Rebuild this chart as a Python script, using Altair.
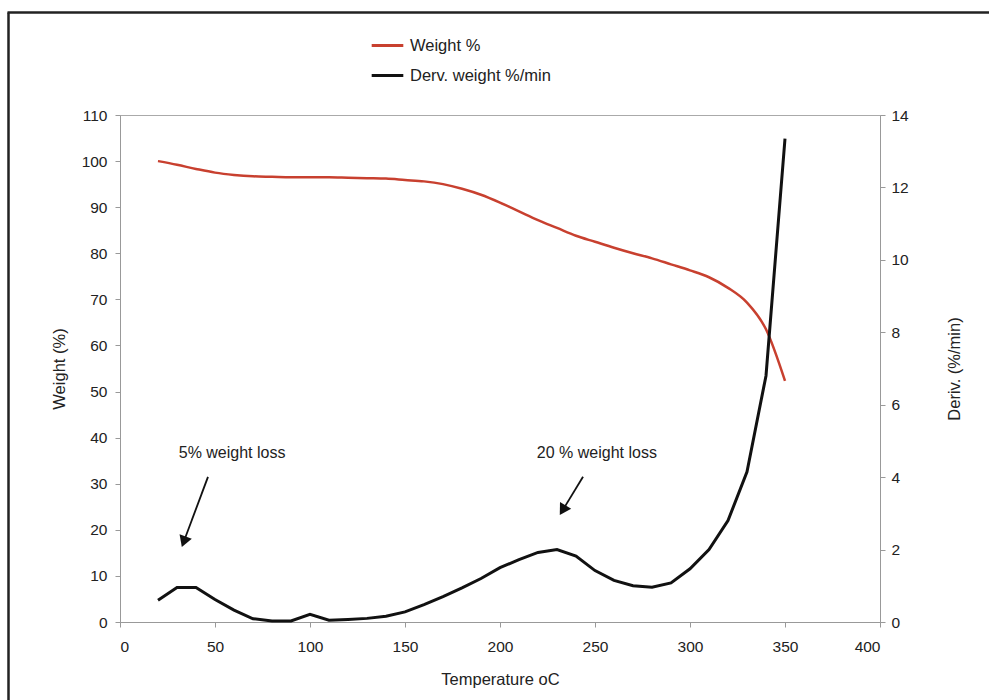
import altair as alt
import pandas as pd

# ---- data ----
temperature = [20, 30, 40, 50, 60, 70, 80, 90, 100, 110, 120, 130, 140, 150, 160, 170,
               180, 190, 200, 210, 220, 230, 240, 250, 260, 270, 280, 290, 300, 310,
               320, 330, 340, 350]
weight_pct = [100.0, 99.2, 98.3, 97.5, 97.0, 96.7, 96.6, 96.5, 96.5, 96.5, 96.4, 96.3,
              96.2, 95.9, 95.6, 95.0, 94.0, 92.7, 91.0, 89.1, 87.2, 85.5, 83.8, 82.5,
              81.2, 80.0, 78.9, 77.6, 76.3, 74.8, 72.5, 69.3, 63.5, 52.3]
deriv_weight = [0.6, 0.95, 0.95, 0.62, 0.33, 0.09, 0.03, 0.03, 0.21, 0.05, 0.07, 0.1,
                0.16, 0.28, 0.48, 0.7, 0.94, 1.2, 1.5, 1.72, 1.92, 2.0, 1.82, 1.42,
                1.15, 1.0, 0.96, 1.08, 1.47, 2.0, 2.8, 4.15, 6.8, 13.35]

series_names = ["Weight %", "Derv. weight %/min"]
series_colors = ["#c8402f", "#111111"]

# annotations (data units: temperature, weight %)
ann_text = ["5% weight loss", "20 % weight loss"]
ann_text_x = [59, 251]
ann_text_y = [36.7, 36.7]
arrow_x1 = [46.3, 243.7]
arrow_y1 = [31.5, 31.5]
arrow_x2 = [33.9, 233.5]
arrow_y2 = [17.8, 24.6]
arrow_angle = [200, 211]

x_ticks = list(range(0, 401, 50))
left_ticks = list(range(0, 111, 10))
right_ticks = list(range(0, 15, 2))

FONT = "Liberation Sans"

df_w = pd.DataFrame({"T": temperature, "v": weight_pct, "series": series_names[0]})
df_d = pd.DataFrame({"T": temperature, "v": deriv_weight, "series": series_names[1]})
df_ann = pd.DataFrame({"label": ann_text, "tx": ann_text_x, "ty": ann_text_y,
                       "x1": arrow_x1, "y1": arrow_y1, "x2": arrow_x2, "y2": arrow_y2,
                       "angle": arrow_angle})

xscale = alt.Scale(domain=[0, 400], nice=False)
xaxis = alt.Axis(values=x_ticks, title="Temperature oC", grid=False)
color = alt.Color("series:N",
                  scale=alt.Scale(domain=series_names, range=series_colors),
                  legend=alt.Legend(title=None, orient="none", legendX=250, legendY=-87,
                                    direction="vertical", symbolType="stroke",
                                    symbolSize=1000, symbolStrokeWidth=3,
                                    labelFont=FONT, labelFontSize=16.5, labelColor="#222",
                                    labelOffset=5, rowPadding=4))

left_scale = alt.Scale(domain=[0, 110], nice=False)

red = alt.Chart(df_w).mark_line(strokeWidth=2.5, interpolate="monotone").encode(
    x=alt.X("T:Q", scale=xscale, axis=xaxis),
    y=alt.Y("v:Q", scale=left_scale,
            axis=alt.Axis(values=left_ticks, title="Weight (%)", grid=False, orient="left",
                          labelPadding=8)),
    color=color,
)

texts = alt.Chart(df_ann).mark_text(font=FONT, fontSize=16, color="#222").encode(
    x=alt.X("tx:Q", scale=xscale),
    y=alt.Y("ty:Q", scale=left_scale),
    text="label:N",
)
rules = alt.Chart(df_ann).mark_rule(strokeWidth=1.8, color="#111").encode(
    x=alt.X("x1:Q", scale=xscale), y=alt.Y("y1:Q", scale=left_scale),
    x2="x2:Q", y2="y2:Q",
)
heads = alt.Chart(df_ann).mark_point(shape="triangle", filled=True, size=170,
                                     color="#111", opacity=1).encode(
    x=alt.X("x2:Q", scale=xscale), y=alt.Y("y2:Q", scale=left_scale),
    angle=alt.Angle("angle:Q", scale=None),
)

left_layer = alt.layer(red, texts, rules, heads)

black = alt.Chart(df_d).mark_line(strokeWidth=3).encode(
    x=alt.X("T:Q", scale=xscale, axis=xaxis),
    y=alt.Y("v:Q", scale=alt.Scale(domain=[0, 14], nice=False),
            axis=alt.Axis(values=right_ticks, title="Deriv. (%/min)", grid=False,
                          orient="right", titleAngle=270, titlePadding=54)),
    color=color,
)

# outer frame (left and top edges of the original figure box)
frame_df = pd.DataFrame({"k": [0]})
frame_left = alt.Chart(frame_df).mark_rule(color="#222", strokeWidth=2.5).encode(
    x=alt.value(-111.5), y=alt.value(-102.5), y2=alt.value(600))
frame_top = alt.Chart(frame_df).mark_rule(color="#222", strokeWidth=2.5).encode(
    x=alt.value(-112.5), x2=alt.value(900), y=alt.value(-102.5))

chart = alt.layer(left_layer, black, frame_left, frame_top).resolve_scale(
    y="independent").properties(
    width=760, height=507,
    autosize=alt.AutoSizeParams(type="none"),
    padding={"left": 120, "top": 115, "right": 109, "bottom": 78},
    background="white",
).configure_view(stroke="#aaaaaa", strokeWidth=1).configure_axis(
    labelFont=FONT, titleFont=FONT, labelFontSize=15.5, titleFontSize=16.5,
    labelColor="#222", titleColor="#222", titleFontWeight="normal",
    domainColor="#999", tickColor="#999", tickSize=5, labelPadding=6,
).configure_axisLeft(titlePadding=14).configure_axisBottom(titlePadding=17, labelPadding=12)

chart.save("out.html", embed_options={"renderer": "svg", "actions": False})
